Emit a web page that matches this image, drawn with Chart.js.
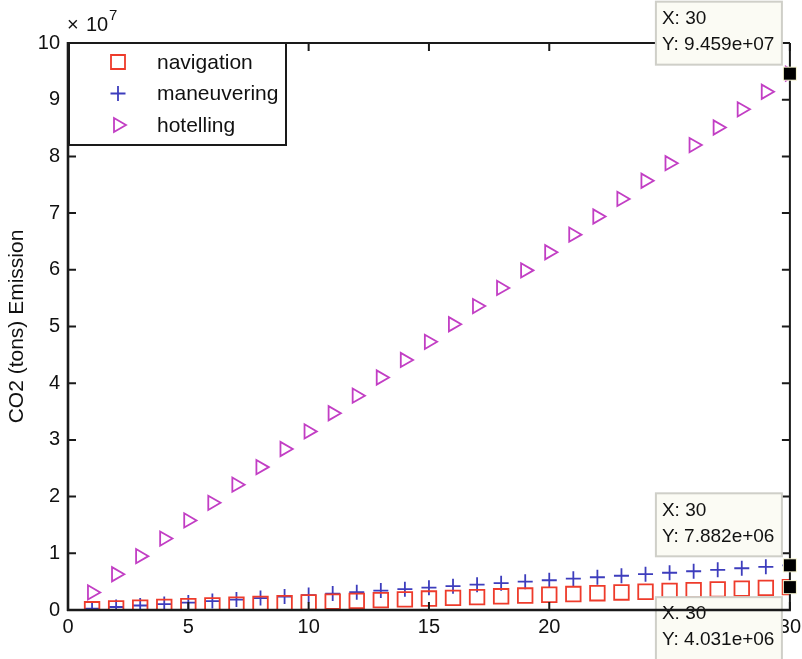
<!DOCTYPE html>
<html>
<head>
<meta charset="utf-8">
<script src="https://cdn.jsdelivr.net/npm/chart.js@4/dist/chart.umd.min.js"></script>
<style>
  html, body { margin: 0; padding: 0; background: #ffffff; }
  #wrap { width: 802px; height: 659px; }
</style>
</head>
<body>
<div id="wrap"><canvas id="c" width="802" height="659"></canvas></div>
<script>
// Days of operation
const days = [1,2,3,4,5,6,7,8,9,10,11,12,13,14,15,16,17,18,19,20,21,22,23,24,25,26,27,28,29,30];

// Cumulative CO2 emission (tons) per operating mode
const navigation = [
  0.13e6, 0.27e6, 0.40e6, 0.54e6, 0.67e6, 0.81e6, 0.94e6, 1.07e6, 1.21e6, 1.34e6,
  1.48e6, 1.61e6, 1.75e6, 1.88e6, 2.02e6, 2.15e6, 2.28e6, 2.42e6, 2.55e6, 2.69e6,
  2.82e6, 2.96e6, 3.09e6, 3.22e6, 3.36e6, 3.49e6, 3.63e6, 3.76e6, 3.90e6, 4.031e6
];
const maneuvering = [
  0.26e6, 0.53e6, 0.79e6, 1.05e6, 1.31e6, 1.58e6, 1.84e6, 2.10e6, 2.36e6, 2.63e6,
  2.89e6, 3.15e6, 3.42e6, 3.68e6, 3.94e6, 4.20e6, 4.47e6, 4.73e6, 4.99e6, 5.25e6,
  5.52e6, 5.78e6, 6.04e6, 6.31e6, 6.57e6, 6.83e6, 7.09e6, 7.36e6, 7.62e6, 7.882e6
];
const hotelling = [
  0.31e7, 0.63e7, 0.95e7, 1.26e7, 1.58e7, 1.89e7, 2.21e7, 2.52e7, 2.84e7, 3.15e7,
  3.47e7, 3.78e7, 4.10e7, 4.41e7, 4.73e7, 5.04e7, 5.36e7, 5.68e7, 5.99e7, 6.31e7,
  6.62e7, 6.94e7, 7.25e7, 7.57e7, 7.88e7, 8.20e7, 8.51e7, 8.83e7, 9.14e7, 9.459e7
];

// Axis ticks
const xTicks = [0, 5, 10, 15, 20, 25, 30];
const yTicks = [0, 1, 2, 3, 4, 5, 6, 7, 8, 9, 10];   // in units of 1e7
const yExponent = 7;

const seriesNames = ['navigation', 'maneuvering', 'hotelling'];
const seriesColors = ['#ee3b2b', '#3d3dbd', '#c23ec4'];

const FONT = '"Liberation Sans", Arial, Helvetica, sans-serif';

function pts(arr) { return days.map((d, i) => ({ x: d, y: arr[i] })); }

// Data tips pinned on the last day of each series
const dataTips = [
  { series: 2, place: 'above' },
  { series: 1, place: 'above' },
  { series: 0, place: 'below' }
];
const seriesData = [navigation, maneuvering, hotelling];

function drawMarker(ctx, style, x, y, color) {
  ctx.save();
  ctx.strokeStyle = color;
  ctx.lineWidth = 1.8;
  ctx.beginPath();
  if (style === 'rect') {
    ctx.rect(x - 7, y - 7, 14, 14);
  } else if (style === 'cross') {
    ctx.moveTo(x - 7.5, y); ctx.lineTo(x + 7.5, y);
    ctx.moveTo(x, y - 7.5); ctx.lineTo(x, y + 7.5);
  } else {
    ctx.moveTo(x + 8, y);
    ctx.lineTo(x - 4, y - 7);
    ctx.lineTo(x - 4, y + 7);
    ctx.closePath();
  }
  ctx.stroke();
  ctx.restore();
}

const framePlugin = {
  id: 'frame',
  afterDatasetsDraw(chart) {
    const ctx = chart.ctx;
    const a = chart.chartArea;
    const xs = chart.scales.x, ys = chart.scales.y;
    ctx.save();
    ctx.strokeStyle = '#1a1a1a';
    ctx.lineCap = 'butt';

    // axes box (top, right, left)
    ctx.lineWidth = 2;
    ctx.beginPath();
    ctx.moveTo(a.left, a.top); ctx.lineTo(a.right, a.top);
    ctx.moveTo(a.right, a.top); ctx.lineTo(a.right, a.bottom);
    ctx.stroke();
    ctx.lineWidth = 2.6;
    ctx.beginPath();
    ctx.moveTo(a.left, a.top - 1); ctx.lineTo(a.left, a.bottom + 1);
    ctx.stroke();

    // inward tick marks
    ctx.lineWidth = 2;
    ctx.beginPath();
    yTicks.forEach(v => {
      const py = ys.getPixelForValue(v * Math.pow(10, yExponent));
      ctx.moveTo(a.left, py); ctx.lineTo(a.left + 8, py);
      ctx.moveTo(a.right, py); ctx.lineTo(a.right - 8, py);
    });
    xTicks.forEach(v => {
      const px = xs.getPixelForValue(v);
      ctx.moveTo(px, a.top); ctx.lineTo(px, a.top + 8);
      ctx.moveTo(px, a.bottom); ctx.lineTo(px, a.bottom - 8);
    });
    ctx.stroke();

    // legend
    const lx = a.left, ly = a.top, lw = 218, lh = 102;
    ctx.fillStyle = '#ffffff';
    ctx.fillRect(lx, ly, lw, lh);
    ctx.lineWidth = 2;
    ctx.strokeStyle = '#1a1a1a';
    ctx.strokeRect(lx + 1, ly, lw - 1, lh);
    const styles = ['rect', 'cross', 'triangle'];
    ctx.font = '21px ' + FONT;
    ctx.textBaseline = 'middle';
    ctx.textAlign = 'left';
    seriesNames.forEach((n, i) => {
      const ry = ly + 19 + i * 31.5;
      drawMarker(ctx, styles[i], lx + 50, ry, seriesColors[i]);
      ctx.fillStyle = '#111111';
      ctx.fillText(n, lx + 89, ry + 1);
    });

    // data tips
    const boxW = 126, boxH = 63;
    ctx.font = '19px ' + FONT;
    const tipPts = [];
    dataTips.forEach(t => {
      const arr = seriesData[t.series];
      const last = arr.length - 1;
      const px = xs.getPixelForValue(days[last]);
      const py = ys.getPixelForValue(arr[last]);
      tipPts.push([px, py]);
      const bx = px - 8 - boxW;
      const by = t.place === 'above' ? py - 9 - boxH : py + 10;
      ctx.fillStyle = '#fbfbf4';
      ctx.fillRect(bx, by, boxW, boxH);
      ctx.strokeStyle = '#cfcfc8';
      ctx.lineWidth = 2;
      ctx.strokeRect(bx, by, boxW, boxH);
      ctx.fillStyle = '#111111';
      ctx.textBaseline = 'middle';
      ctx.fillText('X: ' + days[last], bx + 6, by + 17);
      const s = arr[last].toExponential(3).replace(/e([+-])(\d)$/, 'e$10$2');
      ctx.fillText('Y: ' + s, bx + 6, by + 43);
    });

    // bottom axis line drawn over the lower tip
    ctx.strokeStyle = '#1a1a1a';
    ctx.lineWidth = 2.6;
    ctx.beginPath();
    ctx.moveTo(a.left - 1, a.bottom); ctx.lineTo(a.right + 1, a.bottom);
    ctx.stroke();

    // pinned data tip markers
    tipPts.forEach(([px, py]) => {
      ctx.fillStyle = '#f3f1cf';
      ctx.fillRect(px - 7, py - 7, 14, 14);
      ctx.fillStyle = '#000000';
      ctx.fillRect(px - 6, py - 6, 12, 12);
    });

    // exponent label
    ctx.fillStyle = '#111111';
    ctx.textBaseline = 'alphabetic';
    ctx.font = '20px ' + FONT;
    ctx.fillText('\u00d7', a.left - 1, 31);
    ctx.fillText('10', a.left + 18, 31);
    ctx.font = '15px ' + FONT;
    ctx.fillText(String(yExponent), a.left + 41, 20);
    ctx.restore();
  }
};

new Chart(document.getElementById('c'), {
  type: 'scatter',
  data: {
    datasets: [
      { label: seriesNames[0], data: pts(navigation), pointStyle: 'rect', pointRadius: 10.3,
        borderColor: seriesColors[0], backgroundColor: 'transparent', pointBorderWidth: 1.8 },
      { label: seriesNames[1], data: pts(maneuvering), pointStyle: 'cross', pointRadius: 7.5,
        borderColor: seriesColors[1], backgroundColor: 'transparent', pointBorderWidth: 1.8 },
      { label: seriesNames[2], data: pts(hotelling), pointStyle: 'triangle', pointRotation: 90, pointRadius: 8.2,
        borderColor: seriesColors[2], backgroundColor: 'transparent', pointBorderWidth: 1.8 }
    ]
  },
  options: {
    responsive: false,
    animation: false,
    devicePixelRatio: 1,
    layout: { padding: { top: 43, right: 12, left: 0, bottom: 0 } },
    plugins: { legend: { display: false }, tooltip: { enabled: false } },
    scales: {
      x: {
        type: 'linear', min: 0, max: 30, z: 1,
        grid: { display: false, drawTicks: false },
        border: { display: false },
        afterBuildTicks: s => { s.ticks = xTicks.map(v => ({ value: v })); },
        ticks: { color: '#111111', font: { family: FONT, size: 20 }, padding: 5, maxRotation: 0 },
        afterFit: s => { s.height = 49; s.paddingLeft = 0; s.paddingRight = 0; }
      },
      y: {
        type: 'linear', min: 0, max: 1e8,
        grid: { display: false, drawTicks: false },
        border: { display: false },
        afterBuildTicks: s => { s.ticks = yTicks.map(v => ({ value: v * Math.pow(10, yExponent) })); },
        ticks: { color: '#111111', font: { family: FONT, size: 20 }, padding: 8,
                 callback: v => String(Math.round(v / Math.pow(10, yExponent))) },
        title: { display: true, text: 'CO2 (tons) Emission', color: '#111111',
                 font: { family: FONT, size: 21 }, padding: { top: 5, bottom: 0 } },
        afterFit: s => { s.width = 68; s.paddingTop = 0; s.paddingBottom = 0; }
      }
    }
  },
  plugins: [framePlugin]
});
</script>
</body>
</html>
